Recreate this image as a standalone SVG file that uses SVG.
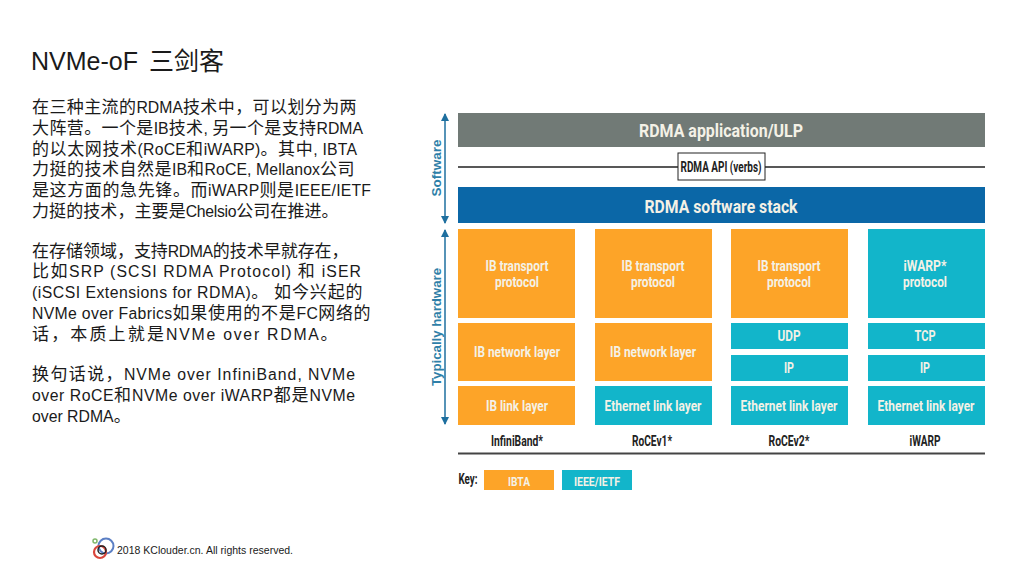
<svg xmlns="http://www.w3.org/2000/svg" width="1024" height="576" viewBox="0 0 1024 576">
<style>
.t{font-family:"Liberation Sans","Noto Sans CJK SC",sans-serif;fill:#1a1a1a}
.b{font-size:15.800px}
.z{font-size:17px;letter-spacing:.4px}
.l{font-family:Roboto,"Liberation Sans",sans-serif;font-weight:700;font-size:14.500px;fill:#f4f1e6;text-anchor:middle}
.h{font-size:18px}
.m{font-size:13.500px}
.k{font-family:Roboto,"Liberation Sans",sans-serif;font-weight:700;font-size:14px;fill:#222;text-anchor:middle}
.o{fill:#fda428}.c{fill:#12b5ca}
.s{font-family:"Liberation Sans",sans-serif;font-weight:700;font-size:13px;fill:#2f7fa8;text-anchor:middle}
.a{stroke:#1e6f9f;stroke-width:1.5;fill:none;marker-start:url(#ah);marker-end:url(#ah)}
</style>
<defs><marker id="ah" markerWidth="8" markerHeight="8" refX="7" refY="4" orient="auto-start-reverse" markerUnits="userSpaceOnUse"><path d="M0 0L8 4L0 8Z" fill="#1e6f9f"/></marker></defs>
<rect width="1024" height="576" fill="#fff"/>
<g id="text-panel">
<text class="t" x="31" y="70" font-size="25" word-spacing="4">NVMe-oF 三剑客</text>
<text class="t b" x="32" y="113" textLength="325"><tspan class="z">在三种主流的</tspan>RDMA<tspan class="z">技术中，可以划分为两</tspan></text>
<text class="t b" x="32" y="134" textLength="331"><tspan class="z">大阵营。一个是</tspan>IB<tspan class="z">技术</tspan>, <tspan class="z">另一个是支持</tspan>RDMA</text>
<text class="t b" x="32" y="155" textLength="325"><tspan class="z">的以太网技术</tspan>(RoCE<tspan class="z">和</tspan>iWARP)<tspan class="z">。其中</tspan>, IBTA</text>
<text class="t b" x="32" y="175" textLength="323"><tspan class="z">力挺的技术自然是</tspan>IB<tspan class="z">和</tspan>RoCE, Mellanox<tspan class="z">公司</tspan></text>
<text class="t b" x="32" y="196" textLength="339"><tspan class="z">是这方面的急先锋。而</tspan>iWARP<tspan class="z">则是</tspan>IEEE/IETF</text>
<text class="t b" x="32" y="217" textLength="307"><tspan class="z">力挺的技术，主要是</tspan>Chelsio<tspan class="z">公司在推进。</tspan></text>
<text class="t b" x="32" y="257" textLength="317"><tspan class="z">在存储领域，支持</tspan>RDMA<tspan class="z">的技术早就存在，</tspan></text>
<text class="t b" x="32" y="277" textLength="329"><tspan class="z">比如</tspan>SRP (SCSI RDMA Protocol) <tspan class="z">和</tspan> iSER</text>
<text class="t b" x="32" y="298" textLength="331">(iSCSI Extensions for RDMA)<tspan class="z">。</tspan> <tspan class="z">如今兴起的</tspan></text>
<text class="t b" x="32" y="319" textLength="339">NVMe over Fabrics<tspan class="z">如果使用的不是</tspan>FC<tspan class="z">网络的</tspan></text>
<text class="t b" x="32" y="340" textLength="306"><tspan class="z">话，本质上就是</tspan>NVMe over RDMA<tspan class="z">。</tspan></text>
<text class="t b" x="32" y="380" textLength="323"><tspan class="z">换句话说，</tspan>NVMe over InfiniBand, NVMe</text>
<text class="t b" x="32" y="401" textLength="323">over RoCE<tspan class="z">和</tspan>NVMe over iWARP<tspan class="z">都是</tspan>NVMe</text>
<text class="t b" x="32" y="422">over RDMA<tspan class="z">。</tspan></text>
</g>
<g id="connectors">
<path class="a" d="M445 114V223"/>
<path class="a" d="M445 230V424"/>
<path d="M458 167H678M765 167H985" stroke="#222" stroke-width="1.5"/>
<path d="M458 453.500H985" stroke="#444" stroke-width="1.800"/>
</g>
<g id="side-labels">
<text class="s" transform="translate(441,168) rotate(-90)" textLength="57" lengthAdjust="spacingAndGlyphs">Software</text>
<text class="s" transform="translate(441,327) rotate(-90)" textLength="118" lengthAdjust="spacingAndGlyphs">Typically hardware</text>
</g>
<g id="app"><rect x="458" y="113" width="527" height="34" fill="#717a76"/><text class="l h" x="721" y="137" textLength="164" lengthAdjust="spacingAndGlyphs">RDMA application/ULP</text></g>
<g id="api"><rect x="678" y="153" width="87" height="27" fill="#fff" stroke="#222"/><text class="k" x="721" y="172" textLength="81" lengthAdjust="spacingAndGlyphs">RDMA API (verbs)</text></g>
<g id="stack"><rect x="458" y="187" width="527" height="36" fill="#0b67a7"/><text class="l h" x="721" y="213" textLength="153" lengthAdjust="spacingAndGlyphs">RDMA software stack</text></g>
<g id="ib-col">
<rect class="o" x="458" y="229" width="117" height="89"/><text class="l" x="517" y="271" textLength="63" lengthAdjust="spacingAndGlyphs">IB transport</text><text class="l" x="517" y="287" textLength="44" lengthAdjust="spacingAndGlyphs">protocol</text>
<rect class="o" x="458" y="323" width="117" height="58"/><text class="l" x="517" y="357" textLength="86" lengthAdjust="spacingAndGlyphs">IB network layer</text>
<rect class="o" x="458" y="386" width="117" height="39"/><text class="l" x="517" y="411" textLength="62" lengthAdjust="spacingAndGlyphs">IB link layer</text>
<text class="k" x="517" y="446" textLength="52" lengthAdjust="spacingAndGlyphs">InfiniBand*</text>
</g>
<g id="rocev1-col">
<rect class="o" x="595" y="229" width="117" height="89"/><text class="l" x="653" y="271" textLength="63" lengthAdjust="spacingAndGlyphs">IB transport</text><text class="l" x="653" y="287" textLength="44" lengthAdjust="spacingAndGlyphs">protocol</text>
<rect class="o" x="595" y="323" width="117" height="58"/><text class="l" x="653" y="357" textLength="86" lengthAdjust="spacingAndGlyphs">IB network layer</text>
<rect class="c" x="595" y="386" width="117" height="39"/><text class="l" x="653" y="411" textLength="97" lengthAdjust="spacingAndGlyphs">Ethernet link layer</text>
<text class="k" x="652" y="446" textLength="40" lengthAdjust="spacingAndGlyphs">RoCEv1*</text>
</g>
<g id="rocev2-col">
<rect class="o" x="731" y="229" width="117" height="89"/><text class="l" x="789" y="271" textLength="63" lengthAdjust="spacingAndGlyphs">IB transport</text><text class="l" x="789" y="287" textLength="44" lengthAdjust="spacingAndGlyphs">protocol</text>
<rect class="c" x="731" y="323" width="117" height="26"/><text class="l" x="789" y="341" textLength="23" lengthAdjust="spacingAndGlyphs">UDP</text>
<rect class="c" x="731" y="355" width="117" height="26"/><text class="l" x="789" y="373" textLength="10" lengthAdjust="spacingAndGlyphs">IP</text>
<rect class="c" x="731" y="386" width="117" height="39"/><text class="l" x="789" y="411" textLength="97" lengthAdjust="spacingAndGlyphs">Ethernet link layer</text>
<text class="k" x="789" y="446" textLength="41" lengthAdjust="spacingAndGlyphs">RoCEv2*</text>
</g>
<g id="iwarp-col">
<rect class="c" x="868" y="229" width="117" height="89"/><text class="l" x="925" y="271" textLength="43" lengthAdjust="spacingAndGlyphs">iWARP*</text><text class="l" x="925" y="287" textLength="44" lengthAdjust="spacingAndGlyphs">protocol</text>
<rect class="c" x="868" y="323" width="117" height="26"/><text class="l" x="925" y="341" textLength="21" lengthAdjust="spacingAndGlyphs">TCP</text>
<rect class="c" x="868" y="355" width="117" height="26"/><text class="l" x="925" y="373" textLength="10" lengthAdjust="spacingAndGlyphs">IP</text>
<rect class="c" x="868" y="386" width="117" height="39"/><text class="l" x="926" y="411" textLength="97" lengthAdjust="spacingAndGlyphs">Ethernet link layer</text>
<text class="k" x="925" y="446" textLength="31" lengthAdjust="spacingAndGlyphs">iWARP</text>
</g>
<g id="key">
<text class="k" x="468" y="484" textLength="19" lengthAdjust="spacingAndGlyphs">Key:</text>
<rect class="o" x="484" y="470" width="70" height="20"/><text class="l m" x="519" y="486" textLength="22" lengthAdjust="spacingAndGlyphs">IBTA</text>
<rect class="c" x="562" y="470" width="70" height="20"/><text class="l m" x="597" y="486" textLength="46" lengthAdjust="spacingAndGlyphs">IEEE/IETF</text>
</g>
<g id="footer">
<circle cx="95" cy="541" r="2" fill="none" stroke="#7fb76a" stroke-width="1.500"/>
<circle cx="106" cy="546" r="7.500" fill="none" stroke="#5b7fc4" stroke-width="2"/>
<circle cx="100" cy="552" r="6" fill="none" stroke="#d9463c" stroke-width="2.200"/>
<circle cx="102" cy="550" r="4" fill="none" stroke="#222" stroke-width="1.500"/>
<text class="t" x="117" y="554" font-size="10.500" textLength="176" fill="#333">2018 KClouder.cn. All rights reserved.</text>
</g>
</svg>
